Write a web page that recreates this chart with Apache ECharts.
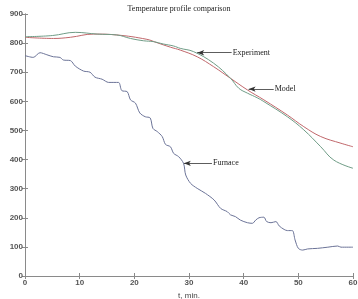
<!DOCTYPE html>
<html>
<head>
<meta charset="utf-8">
<script src="https://cdn.jsdelivr.net/npm/echarts@6/dist/echarts.min.js"></script>
<style>
  html, body { margin: 0; padding: 0; background: #fff; }
  #chart { width: 358px; height: 299px; }
</style>
</head>
<body>
<div id="chart"></div>
<script>
// time, min.
const xTicks = [0, 10, 20, 30, 40, 50, 60];
const yTicks = [0, 100, 200, 300, 400, 500, 600, 700, 800, 900];

const furnaceTime = [0, 1.5, 2.75, 4, 5.2, 6.4, 7, 8.3, 9.2, 10.7, 11.9, 12.8, 14.1, 15.3, 17.1, 17.7, 18.7, 19.3, 20.2, 21, 22, 22.9, 23.4, 24.2, 25.1, 25.7, 26.6, 27.2, 28.1, 29.0, 29.4, 30.3, 31.5, 33.0, 34.6, 35.8, 37.0, 37.6, 38.5, 39.4, 40.7, 41.6, 42.2, 42.8, 43.7, 44.2, 45.0, 45.9, 46.5, 47.4, 48.0, 48.9, 49.4, 50.0, 50.8, 51.7, 53.5, 55.4, 57.2, 57.8, 60];
const furnaceTemp = [757, 751, 767, 760, 753, 751, 742, 740, 721, 704, 700, 683, 676, 665, 665, 637, 633, 605, 594, 560, 547, 543, 507, 496, 479, 452, 444, 421, 410, 387, 347, 318, 301, 284, 261, 232, 221, 210, 204, 192, 183, 181, 192, 200, 202, 187, 183, 187, 172, 160, 156, 156, 124, 95, 89, 93, 95, 99, 103, 99, 99];

const expTime = [0, 5, 9.2, 13.2, 16.8, 19.3, 21.7, 23.5, 25.3, 27.2, 28.4, 30.8, 34.5, 37.6, 39.1, 40.7, 42.5, 43.7, 48.0, 51, 54.1, 56.5, 60];
const expTemp = [822, 826, 837, 831, 828, 816, 808, 805, 797, 790, 782, 771, 731, 679, 645, 628, 612, 599, 547, 502, 444, 398, 370];

const modelTime = [0, 5.2, 8.3, 12.5, 16.8, 22.3, 24.2, 26.6, 28.4, 31.5, 34.5, 37.6, 40.7, 43.7, 48.0, 51, 54.1, 57.8, 60];
const modelTemp = [820, 816, 820, 831, 828, 813, 801, 786, 776, 753, 719, 679, 639, 605, 553, 513, 479, 456, 444];

// arrow tip and where the label line ends
const annotations = [
    { name: 'Experiment', tip: [31.5, 767], end: [37.8, 767] },
    { name: 'Model', tip: [40.9, 642], end: [45.5, 642] },
    { name: 'Furnace', tip: [29.05, 387], end: [34.2, 387] },
];

const zip = (a, b) => a.map((v, i) => [v, b[i]]);

function arrow(idx) {
    const a = annotations[idx];
    return {
        silent: true,
        animation: false,
        symbol: ['arrow', 'none'],
        symbolSize: [4, 7],
        lineStyle: { color: '#333', width: 0.8, type: 'solid' },
        label: {
            position: 'end',
            formatter: a.name,
            color: '#222',
            fontFamily: 'Liberation Serif',
            fontSize: 8,
            distance: 1,
        },
        data: [[{ coord: a.tip }, { coord: a.end }]],
    };
}

const axisCommon = {
    type: 'value',
    axisLine: { lineStyle: { color: '#8a8a8a', width: 1 } },
    axisTick: { inside: true, length: 3, lineStyle: { color: '#8a8a8a' } },
    splitLine: { show: false },
};

const option = {
    animation: false,
    title: {
        text: 'Temperature profile comparison',
        left: 'center',
        top: 0,
        textStyle: {
            fontFamily: 'Liberation Serif',
            fontSize: 8,
            fontWeight: 'normal',
            color: '#222',
        },
    },
    grid: { left: 25, right: 5, top: 14, bottom: 23, containLabel: false, outerBoundsMode: 'none' },
    xAxis: [
        {
            ...axisCommon,
            min: 0,
            max: 60,
            interval: 10,
            name: 't, min.',
            nameLocation: 'middle',
            nameGap: 15,
            nameTextStyle: { color: '#444', fontFamily: 'Liberation Sans', fontSize: 8 },
            axisLabel: {
                color: '#555',
                fontFamily: 'Liberation Sans',
                fontSize: 8,
                fontWeight: 'bold',
                margin: 3,
                formatter: (v) => (xTicks.includes(v) ? v : ''),
            },
        },
        {
            ...axisCommon,
            position: 'top',
            min: 0,
            max: 60,
            interval: 10,
            axisLabel: { show: false },
        },
    ],
    yAxis: [
        {
            ...axisCommon,
            min: 0,
            max: 900,
            interval: 100,
            name: 'T, °C',
            nameLocation: 'middle',
            nameGap: 16,
            nameTextStyle: { color: '#444', fontFamily: 'Liberation Sans', fontSize: 8 },
            axisLabel: {
                color: '#555',
                fontFamily: 'Liberation Sans',
                fontSize: 8,
                fontWeight: 'bold',
                margin: 2,
                formatter: (v) => (yTicks.includes(v) ? v : ''),
            },
        },
        {
            ...axisCommon,
            position: 'right',
            min: 0,
            max: 900,
            interval: 100,
            axisLabel: { show: false },
        },
    ],
    series: [
        {
            name: 'Furnace',
            type: 'line',
            data: zip(furnaceTime, furnaceTemp),
            showSymbol: false,
            smooth: 0.3,
            lineStyle: { color: '#6b7397', width: 1 },
            markLine: arrow(2),
        },
        {
            name: 'Model',
            type: 'line',
            data: zip(modelTime, modelTemp),
            showSymbol: false,
            smooth: 0.4,
            lineStyle: { color: '#c0676b', width: 1 },
            markLine: arrow(1),
        },
        {
            name: 'Experiment',
            type: 'line',
            data: zip(expTime, expTemp),
            showSymbol: false,
            smooth: 0.4,
            lineStyle: { color: '#6f9c86', width: 1 },
            markLine: arrow(0),
        },
    ],
};

const myChart = echarts.init(document.getElementById('chart'));
myChart.setOption(option);
</script>
</body>
</html>
